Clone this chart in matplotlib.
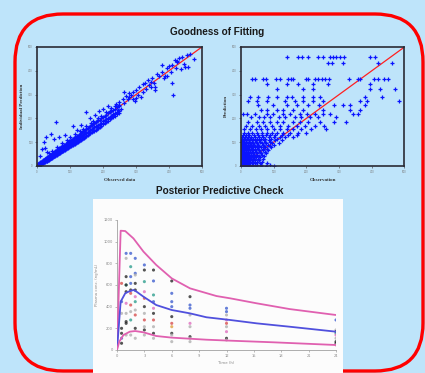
import matplotlib.pyplot as plt
from matplotlib.patches import FancyBboxPatch, Rectangle

# ---- Goodness of fitting, left panel (observed vs individual prediction)
band_obs = [2, 4, 5, 7, 8, 10, 12, 13, 15, 17, 18, 20, 22, 24, 25, 27, 29, 30, 32, 34, 35, 37,
            39, 41, 42, 44, 46, 48, 50, 52, 54, 56, 58, 60, 62, 64, 66, 68, 70, 72, 75, 77, 80,
            82, 85, 88, 90, 93, 95, 98, 100, 103, 106, 108, 111, 114, 117, 120, 123, 126, 130,
            133, 136, 140, 143, 147, 150, 154, 158, 162, 166, 170, 174, 178, 182, 186, 190, 195,
            200, 205, 210, 215, 220, 225, 230, 236, 242, 248]
band_hi = [8, 10, 6, 13, 9, 15, 14, 18, 19, 20, 24, 24, 26, 30, 28, 33, 33, 36, 37, 38, 42, 41,
           45, 46, 47, 50, 51, 53, 56, 57, 60, 61, 63, 66, 67, 70, 71, 74, 75, 78, 80, 83, 85,
           88, 90, 94, 95, 99, 100, 104, 105, 109, 111, 114, 116, 120, 122, 126, 128, 132, 135,
           139, 141, 146, 148, 153, 155, 160, 163, 168, 171, 176, 179, 184, 187, 192, 195, 201,
           205, 211, 215, 221, 225, 231, 235, 241, 247, 253]
band_mid = [3, 5, 5, 7, 8, 10, 12, 13, 15, 16, 17, 19, 21, 23, 24, 26, 28, 29, 30, 32, 33, 35,
            37, 39, 40, 42, 43, 45, 47, 49, 51, 53, 55, 56, 58, 60, 62, 64, 66, 68, 70, 72, 75,
            77, 80, 82, 84, 87, 89, 92, 94, 96, 99, 101, 104, 106, 109, 112, 115, 118, 121, 124,
            127, 131, 134, 137, 140, 144, 147, 151, 155, 159, 162, 166, 170, 173, 177, 182, 187,
            192, 196, 201, 206, 210, 215, 221, 227, 233]
band_lo = [0, 1, 3, 4, 5, 7, 8, 10, 11, 12, 13, 15, 16, 18, 19, 21, 22, 23, 25, 26, 27, 29,
           30, 32, 33, 35, 36, 38, 40, 41, 43, 45, 46, 48, 50, 51, 53, 55, 56, 58, 61, 62, 65,
           67, 69, 72, 74, 76, 78, 80, 82, 85, 87, 89, 91, 94, 96, 99, 102, 104, 108, 110, 113,
           117, 119, 123, 126, 130, 133, 137, 141, 145, 149, 153, 157, 161, 165, 170, 175, 180,
           185, 190, 196, 201, 206, 212, 218, 224]
out_obs = [58, 108, 28, 20, 41, 53, 68, 16, 23, 133, 148, 188, 10, 30, 85, 120, 160, 175, 200,
           215, 248, 263, 278, 298, 328, 358, 358, 378, 388, 408, 413, 418, 438, 448, 458, 475,
           423, 260, 270, 285, 300, 310, 320, 335, 345, 350, 365, 370, 380, 395, 400, 410, 425,
           430, 440, 445, 455, 465, 345, 330, 315, 290, 240, 250, 225, 235, 265, 275, 290, 305,
           320, 340, 355, 385, 395, 405, 420, 300, 255, 245, 280, 230, 220, 210, 195, 185, 170,
           165, 150, 140, 130, 115, 100, 90, 75, 60, 45, 35]
out_pred = [184, 168, 121, 102, 133, 112, 121, 70, 74, 173, 225, 232, 40, 60, 130, 150, 200,
            215, 240, 250, 257, 309, 306, 271, 348, 334, 320, 425, 379, 348, 299, 447, 407, 418,
            418, 451, 435, 280, 295, 300, 320, 330, 345, 360, 355, 370, 385, 380, 395, 410, 420,
            425, 440, 455, 460, 430, 465, 470, 330, 325, 290, 280, 260, 270, 245, 250, 265, 280,
            310, 300, 310, 340, 350, 370, 380, 395, 410, 285, 240, 235, 290, 220, 230, 225, 210,
            200, 190, 180, 170, 155, 145, 135, 120, 110, 95, 80, 65, 55]

# ---- right panel (observation vs population prediction), predictions come in rows
row_pred = [457, 431, 364, 343, 322, 291, 273, 256, 235, 217, 205, 186, 170, 155, 140, 130,
            120, 114, 108, 102, 96, 90, 84, 78, 72, 66, 60, 54, 48, 42, 36, 30, 24, 18, 12, 6, 1]
row_obs = [
    [140, 174, 186, 206, 236, 250, 272, 282, 292, 302, 316, 395, 410],
    [267, 278, 313, 420, 461],
    [35, 43, 68, 76, 106, 119, 145, 153, 158, 198, 206, 227, 237, 247, 257, 269, 329, 359, 364,
     408, 420, 436, 451],
    [79, 140, 174, 221, 267, 395],
    [109, 191, 221, 395, 426, 472],
    [28, 53, 84, 109, 140, 156, 191, 221, 241, 380, 431],
    [22, 48, 79, 135, 165, 191, 221, 252, 364, 385, 482],
    [53, 99, 140, 170, 206, 240, 283, 313, 334, 380],
    [60, 79, 110, 130, 160, 190, 250, 334, 364],
    [7, 17, 43, 79, 99, 130, 150, 181, 201, 227, 252, 272, 344, 359],
    [30, 55, 70, 90, 115, 135, 165, 185, 210, 235, 290],
    [22, 48, 68, 89, 109, 130, 160, 181, 206, 242, 283, 320],
    [15, 35, 55, 75, 95, 120, 145, 170, 195, 225, 255],
    [10, 28, 45, 62, 80, 100, 118, 140, 160, 185, 215, 260],
    [8, 20, 35, 50, 65, 80, 95, 110, 130, 150, 175, 200],
    [5, 15, 25, 40, 52, 65, 78, 90, 105, 125, 145, 170],
    [4, 12, 22, 30, 42, 55, 68, 85, 100, 118, 135, 160],
    [2, 10, 18, 28, 38, 48, 60, 75, 92, 110],
    [1, 7, 15, 24, 33, 44, 56, 70, 86, 104, 125],
    [3, 9, 16, 25, 35, 46, 58, 72, 90],
    [1, 6, 12, 20, 28, 38, 50, 63, 78, 96, 115],
    [2, 8, 14, 22, 30, 40, 52, 66, 82, 100],
    [1, 5, 11, 18, 26, 34, 44, 56, 70, 88],
    [0, 4, 9, 15, 22, 30, 38, 48, 60, 74, 92],
    [1, 6, 12, 18, 25, 33, 42, 53, 66, 80],
    [0, 4, 9, 14, 20, 27, 35, 44, 55, 68, 84],
    [1, 5, 10, 16, 22, 29, 37, 46, 57, 72],
    [0, 3, 7, 12, 17, 23, 30, 38, 48, 60, 76],
    [1, 5, 9, 14, 19, 25, 32, 40, 50, 64],
    [0, 3, 6, 10, 15, 20, 26, 33, 42, 54, 70],
    [1, 4, 8, 12, 17, 22, 28, 36, 46, 58],
    [0, 3, 6, 10, 14, 19, 25, 32, 40, 52, 66],
    [1, 4, 7, 11, 15, 20, 26, 34, 44, 56],
    [0, 2, 5, 9, 13, 17, 22, 29, 38, 50, 64],
    [1, 3, 6, 10, 14, 19, 25, 33, 44, 58, 80],
    [0, 2, 4, 7, 11, 15, 20, 27, 36, 48, 62, 90],
    [0, 3, 6, 10, 14, 19, 26, 35, 46, 60, 78, 100],
]
gof_ticks = [0, 100, 200, 300, 400, 500]

# ---- posterior predictive check
pk_times = [0.5, 1, 1.5, 2, 3, 4, 6, 8, 12, 24]
pk_conc = [
    [615, 446, 338, 200, 154, 108, 62],
    [892, 846, 677, 600, 600, 538, 431, 338, 262, 246, 138],
    [892, 769, 677, 615, 554, 523, 415, 354, 277, 138],
    [846, 708, 692, 615, 554, 492, 446, 369, 323, 200, 108],
    [785, 738, 631, 538, 477, 400, 338, 277, 215, 185, 138],
    [738, 637, 508, 446, 385, 338, 277, 215, 154, 108],
    [637, 523, 446, 400, 308, 246, 215, 154, 138, 77],
    [492, 415, 385, 323, 246, 215, 123, 108, 77],
    [385, 354, 323, 277, 246, 215, 169, 108, 92],
    [277, 185, 169, 154, 138, 108, 77, 62, 46],
]
pk_subj = [
    [3, 1, 5, 0, 0, 1, 0],
    [1, 5, 0, 2, 0, 0, 4, 5, 0, 0, 5],
    [1, 2, 1, 1, 0, 3, 3, 5, 2, 5],
    [1, 1, 5, 0, 0, 4, 2, 5, 3, 0, 5],
    [1, 0, 2, 4, 3, 0, 5, 3, 5, 0, 5],
    [0, 1, 2, 1, 4, 0, 3, 5, 0, 5],
    [0, 1, 1, 1, 0, 3, 6, 0, 5, 5],
    [0, 1, 1, 5, 4, 5, 0, 5, 5],
    [1, 1, 5, 4, 3, 5, 4, 0, 5],
    [1, 5, 0, 2, 4, 5, 0, 0, 5],
]
up_t = [0, 0.4, 0.9, 1.8, 2.9, 4.3, 6.0, 8.0, 10.9, 12.4, 15.3, 18.9, 22.6, 24]
up_c = [0, 1101, 1098, 1030, 908, 785, 661, 569, 498, 477, 431, 378, 338, 323]
med_t = [0, 0.4, 0.9, 1.25, 1.8, 2.15, 2.9, 4.3, 6, 8, 9.8, 12.4, 15.3, 18.9, 24]
med_c = [0, 446, 523, 538, 554, 538, 492, 415, 369, 338, 302, 277, 246, 215, 169]
lo_t = [0, 0.25, 0.7, 1.4, 2.0, 2.9, 4.3, 6, 9.8, 12.4, 17.1, 24]
lo_c = [0, 77, 138, 169, 175, 163, 129, 114, 95, 86, 71, 46]
pk_xticks = [0, 3, 6, 9, 12, 15, 18, 21, 24]
pk_yticks = [0, 200, 400, 600, 800, 1000, 1200]

subj_colors = ['#2a2a2a', '#4060d0', '#30a090', '#d85050', '#e070c0', '#b0b0b0', '#e0a040']
bg_color = '#bee4fa'

fig = plt.figure(figsize=(4.25, 3.73), dpi=100, facecolor=bg_color)

# background layer in pixel units
bg = fig.add_axes([0, 0, 1, 1], zorder=0)
bg.set_xlim(0, 425)
bg.set_ylim(373, 0)
bg.axis('off')
bg.add_patch(FancyBboxPatch((15, 14), 408, 357, boxstyle='round,pad=0,rounding_size=48',
                            fill=False, edgecolor='#ff0000', lw=2.4))
bg.add_patch(Rectangle((93, 199), 250, 176, facecolor='#fcfcfc', edgecolor='none'))

fig.text(0.511, 0.913, 'Goodness of Fitting', ha='center', va='center',
         fontsize=7.2, fontweight='bold', family='Liberation Sans', color='#1a1a1a')
fig.text(0.516, 0.488, 'Posterior Predictive Check', ha='center', va='center',
         fontsize=7.2, fontweight='bold', family='Liberation Sans', color='#1a1a1a')


def gof_axes(rect, xlabel, ylabel):
    ax = fig.add_axes(rect, zorder=2)
    ax.set_facecolor('none')
    ax.set_xlim(0, 500)
    ax.set_ylim(0, 500)
    ax.plot([0, 500], [0, 500], color='#ff2020', lw=0.9, zorder=1)
    for s in ax.spines.values():
        s.set_color('#2a2a35')
        s.set_linewidth(1.2)
    ax.set_xticks(gof_ticks)
    ax.set_yticks(gof_ticks)
    ax.set_xticklabels([str(t) for t in gof_ticks])
    ax.set_yticklabels([str(t) for t in gof_ticks])
    ax.tick_params(length=1.5, width=0.5, labelsize=1.8, labelcolor='#777777',
                   color='#555555', pad=1.5)
    ax.set_xlabel(xlabel, fontsize=3.6, family='Liberation Serif', fontweight='bold',
                  color='#333333', labelpad=3)
    ax.set_ylabel(ylabel, fontsize=3.6, family='Liberation Serif', fontweight='bold',
                  color='#333333', labelpad=3)
    return ax


pt = dict(marker='+', ls='none', color='#0a14ff', ms=2.4, mew=0.9, zorder=2)

ax1 = gof_axes([0.0871, 0.555, 0.388, 0.319], 'Observed data', 'Individual Prediction')
ax1.plot(band_obs, band_hi, **pt)
ax1.plot(band_obs, band_mid, **pt)
ax1.plot(band_obs, band_lo, **pt)
ax1.plot(out_obs, out_pred, **pt)

ax2 = gof_axes([0.567, 0.555, 0.3847, 0.319], 'Observation', 'Prediction')
for p, obs in zip(row_pred, row_obs):
    ax2.plot(obs, [p] * len(obs), **pt)

# PK panel
ax3 = fig.add_axes([0.2753, 0.0617, 0.5153, 0.3485], zorder=2)
ax3.set_facecolor('none')
ax3.set_xlim(0, 24)
ax3.set_ylim(0, 1200)
for t, concs, subs in zip(pk_times, pk_conc, pk_subj):
    ax3.scatter([t] * len(concs), concs, s=5, c=[subj_colors[k] for k in subs],
                edgecolors='none', alpha=0.8, zorder=2)
ax3.plot(up_t, up_c, color='#e060b0', lw=1.3, zorder=3)
ax3.plot(med_t, med_c, color='#5050dd', lw=1.3, zorder=3)
ax3.plot(lo_t, lo_c, color='#e060b0', lw=1.3, zorder=3)
for side in ['top', 'right']:
    ax3.spines[side].set_visible(False)
for side in ['left', 'bottom']:
    ax3.spines[side].set_color('#a0a0a0')
    ax3.spines[side].set_linewidth(0.6)
ax3.set_xticks(pk_xticks)
ax3.set_yticks(pk_yticks)
ax3.tick_params(length=1.5, width=0.5, labelsize=2.6, labelcolor='#888888',
                color='#a0a0a0', pad=1.5)
ax3.set_xlabel('Time (h)', fontsize=2.8, color='#888888', labelpad=2)
ax3.set_ylabel('Plasma conc. (ng/mL)', fontsize=2.8, color='#888888', labelpad=3)

fig.savefig('out.png', dpi=100, facecolor=bg_color)
